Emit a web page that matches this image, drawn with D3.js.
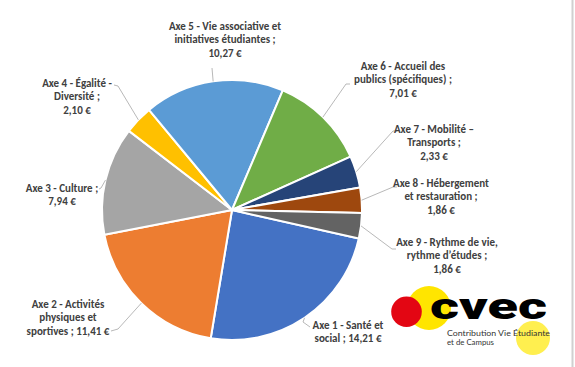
<!DOCTYPE html>
<html>
<head>
<meta charset="utf-8">
<script src="https://cdn.jsdelivr.net/npm/d3@7"></script>
<style>
html,body{margin:0;padding:0;background:#fff;}
svg{display:block;}
</style>
</head>
<body>
<svg id="chart" width="575" height="367"></svg>
<script>
const categories = [
  "Axe 1 - Santé et social",
  "Axe 2 - Activités physiques et sportives",
  "Axe 3 - Culture",
  "Axe 4 - Égalité - Diversité",
  "Axe 5 - Vie associative et initiatives étudiantes",
  "Axe 6 - Accueil des publics (spécifiques)",
  "Axe 7 - Mobilité – Transports",
  "Axe 8 - Hébergement et restauration",
  "Axe 9 - Rythme de vie, rythme d’études"
];
const values = [14.21, 11.41, 7.94, 2.10, 10.27, 7.01, 2.33, 1.86, 1.86];
const valueLabels = ["14,21 €","11,41 €","7,94 €","2,10 €","10,27 €","7,01 €","2,33 €","1,86 €","1,86 €"];
const labelLines = [
  ["Axe 1 - Santé et", "social ; 14,21 €"],
  ["Axe 2 - Activités", "physiques et", "sportives ;  11,41 €"],
  ["Axe 3 - Culture ;", "7,94 €"],
  ["Axe 4 - Égalité -", "Diversité ;", "2,10 €"],
  ["Axe 5 - Vie associative et", "initiatives étudiantes ;", "10,27 €"],
  ["Axe 6 - Accueil des", "publics (spécifiques) ;", "7,01 €"],
  ["Axe 7 - Mobilité –", "Transports ;", "2,33 €"],
  ["Axe 8 - Hébergement", "et restauration ;", "1,86 €"],
  ["Axe 9 - Rythme de vie,", "rythme d’études ;", "1,86 €"]
];
const colors = ["#4472C4","#ED7D31","#A5A5A5","#FFC000","#5B9BD5","#70AD47","#264478","#9E480E","#636363"];

// layout (label block centre x, first line y) and leader-line elbow/end points
const labelPos = [
  {x:348, y:325}, {x:68, y:304}, {x:62, y:188}, {x:77, y:83},
  {x:225, y:26}, {x:403, y:66}, {x:434, y:129}, {x:441, y:183}, {x:447, y:242}
];
const leaderPts = [
  [[303,322],[310,327]],
  [[118,329],[111,331]],
  [[101,188],[99,189]],
  [[118,86],[114,85]],
  [[212,68]],
  [[346,84],[350,84]],
  [[393,131],[397,131]],
  [[393,187],[397,187]],
  [[392,249],[396,249]]
];

const svg = d3.select("#chart");
const cx = 232, cy = 210, R = 130;
const startDeg = 102.7;
const start = startDeg * Math.PI / 180;

const pie = d3.pie().sort(null).value(d => d)
  .startAngle(start).endAngle(start + 2 * Math.PI);
const arcs = pie(values);
const arc = d3.arc().innerRadius(0).outerRadius(R);

const g = svg.append("g").attr("transform", `translate(${cx},${cy})`);
g.selectAll("path.slice").data(arcs).join("path")
  .attr("class", "slice")
  .attr("d", arc)
  .attr("fill", (d, i) => colors[i])
  .attr("stroke", "#fff")
  .attr("stroke-width", 2)
  .attr("stroke-linejoin", "round");

// leader lines
const line = d3.line();
arcs.forEach((a, i) => {
  const mid = (a.startAngle + a.endAngle) / 2;
  const p0 = [cx + R * Math.sin(mid), cy - R * Math.cos(mid)];
  svg.append("path")
    .attr("d", line([p0, ...leaderPts[i]]))
    .attr("fill", "none")
    .attr("stroke", "#a6a6a6")
    .attr("stroke-width", 0.8);
});

// labels
const font = "Carlito, Calibri, Lato, sans-serif";
labelLines.forEach((lines, i) => {
  const t = svg.append("text")
    .attr("text-anchor", "middle")
    .attr("font-family", font)
    .attr("font-weight", "bold")
    .attr("font-size", 11)
    .attr("fill", "#404040");
  lines.forEach((ln, k) => {
    t.append("tspan")
      .attr("x", labelPos[i].x)
      .attr("y", labelPos[i].y + k * 13.5)
      .attr("dy", "0.35em")
      .text(ln);
  });
});

// right border
svg.append("line").attr("x1", 572.5).attr("x2", 572.5).attr("y1", 0).attr("y2", 367)
  .attr("stroke", "#d0d0d0").attr("stroke-width", 2);

// logo
const logo = svg.append("g");
logo.append("circle").attr("cx", 429).attr("cy", 308).attr("r", 22).attr("fill", "#FFE500");
logo.append("circle").attr("cx", 533).attr("cy", 338).attr("r", 17).attr("fill", "#FFEF4F");
logo.append("circle").attr("cx", 406.5).attr("cy", 311.7).attr("r", 15.3).attr("fill", "#E30613");
logo.append("text").attr("x", 430).attr("y", 318.5)
  .attr("font-family", "Roboto, sans-serif").attr("font-weight", 900)
  .attr("font-size", 37).attr("fill", "#000")
  .attr("textLength", 117).attr("lengthAdjust", "spacingAndGlyphs")
  .text("cvec");
logo.append("text").attr("x", 447).attr("y", 336)
  .attr("font-family", "Lato, sans-serif").attr("font-size", 8).attr("fill", "#333")
  .attr("textLength", 103).attr("lengthAdjust", "spacingAndGlyphs")
  .text("Contribution Vie Étudiante");
logo.append("text").attr("x", 447).attr("y", 345)
  .attr("font-family", "Lato, sans-serif").attr("font-size", 8).attr("fill", "#333")
  .attr("textLength", 47).attr("lengthAdjust", "spacingAndGlyphs")
  .text("et de Campus");
</script>
</body>
</html>
